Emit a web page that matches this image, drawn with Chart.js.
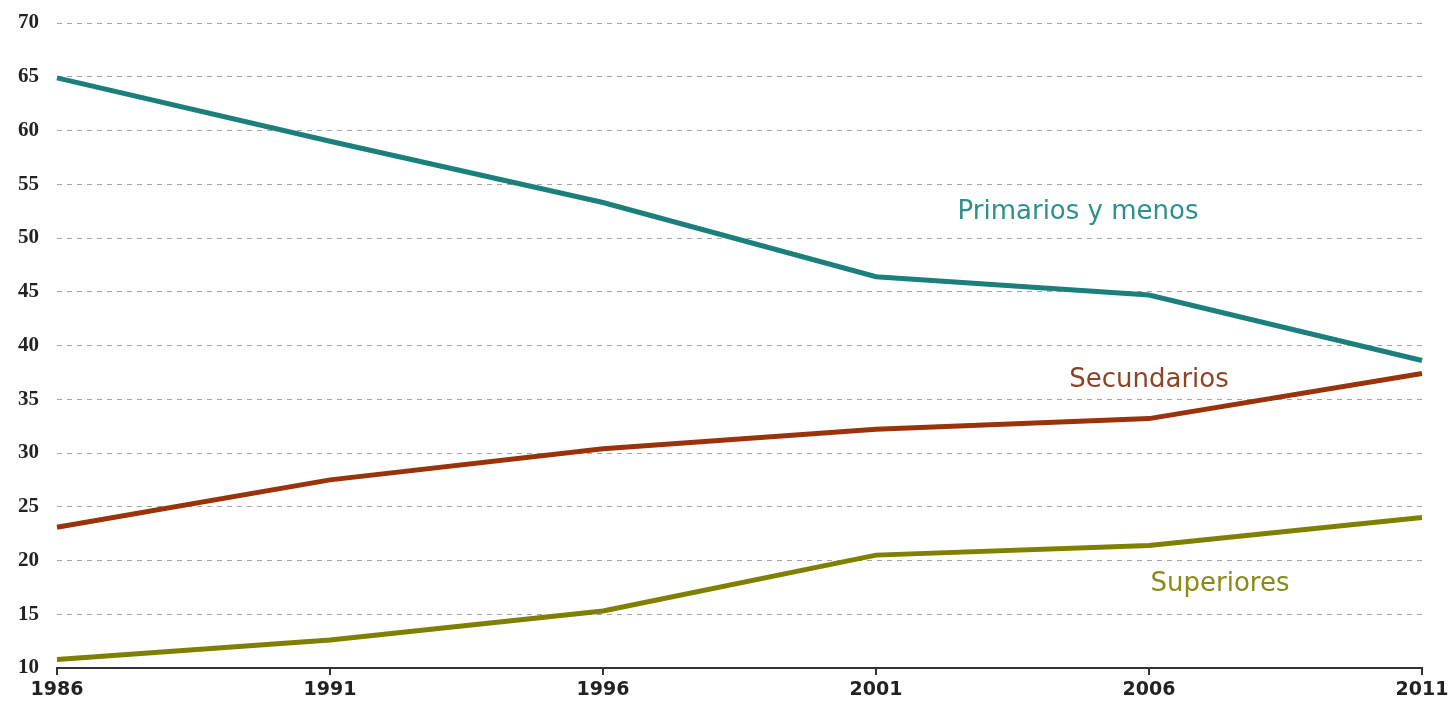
<!DOCTYPE html>
<html>
<head>
<meta charset="utf-8">
<script src="https://cdn.jsdelivr.net/npm/chart.js@4.4.0/dist/chart.umd.min.js"></script>
<style>
  html, body { margin: 0; padding: 0; background: #fff; }
  #wrap { width: 1449px; height: 712px; position: relative; }
</style>
</head>
<body>
<div id="wrap"><canvas id="myChart"></canvas></div>
<script>
var years = ['1986', '1991', '1996', '2001', '2006', '2011'];
var primarios = [64.9, 59.0, 53.3, 46.4, 44.7, 38.6];
var secundarios = [23.1, 27.5, 30.4, 32.2, 33.2, 37.4];
var superiores = [10.8, 12.6, 15.3, 20.5, 21.4, 24.0];
var seriesNames = ['Primarios y menos', 'Secundarios', 'Superiores'];

// series names written next to the lines (x in category index, y in data units)
var lineLabels = {
    id: 'lineLabels',
    afterDatasetsDraw: function (chart) {
        var c = chart.ctx;
        var xs = chart.scales.x, ys = chart.scales.y;
        var spots = [
            { x: 3.74, y: 52.4, color: '#2f8f8c' },
            { x: 4.00, y: 36.8, color: '#8e4424' },
            { x: 4.26, y: 17.8, color: '#8a8a18' }
        ];
        c.save();
        c.font = '26px "DejaVu Sans"';
        c.textAlign = 'center';
        c.textBaseline = 'middle';
        spots.forEach(function (s, i) {
            c.fillStyle = s.color;
            c.fillText(seriesNames[i], xs.getPixelForValue(s.x), ys.getPixelForValue(s.y));
        });
        c.restore();
    }
};

var ctx = document.getElementById('myChart').getContext('2d');
var myChart = new Chart(ctx, {
    type: 'line',
    data: {
        labels: years,
        datasets: [{
            label: seriesNames[0],
            data: primarios,
            borderColor: '#1b7f7b',
            borderWidth: 5
        }, {
            label: seriesNames[1],
            data: secundarios,
            borderColor: '#9a3309',
            borderWidth: 5
        }, {
            label: seriesNames[2],
            data: superiores,
            borderColor: '#7f7f00',
            borderWidth: 5
        }]
    },
    options: {
        responsive: true,
        maintainAspectRatio: false,
        animation: false,
        elements: { point: { radius: 0 }, line: { tension: 0 } },
        plugins: { legend: { display: false }, tooltip: { enabled: false } },
        layout: { padding: { top: 23, right: 0, left: 0, bottom: 0 } },
        scales: {
            x: {
                offset: false,
                grid: { drawOnChartArea: false, drawTicks: true, tickLength: 7, color: '#333', lineWidth: 2 },
                border: { display: true, color: '#333', width: 2 },
                ticks: {
                    color: '#222',
                    padding: 4,
                    maxRotation: 0,
                    font: { family: '"DejaVu Sans"', size: 19, weight: 'bold' }
                },
                afterFit: function (s) {
                    s.height = 44;
                    s.paddingLeft = 0;
                    s.paddingRight = 27;
                }
            },
            y: {
                min: 10,
                max: 70,
                ticks: {
                    stepSize: 5,
                    color: '#222',
                    padding: 18,
                    font: { family: '"Liberation Serif"', size: 21, weight: 'bold' }
                },
                grid: {
                    drawTicks: false,
                    lineWidth: 1,
                    color: function (c) { return c.tick.value === 10 ? 'rgba(0,0,0,0)' : '#a4a4a4'; }
                },
                border: { display: false, dash: [5, 5] },
                afterFit: function (s) {
                    s.width = 57;
                    s.paddingTop = 0;
                    s.paddingBottom = 0;
                }
            }
        }
    },
    plugins: [lineLabels]
});
</script>
</body>
</html>
